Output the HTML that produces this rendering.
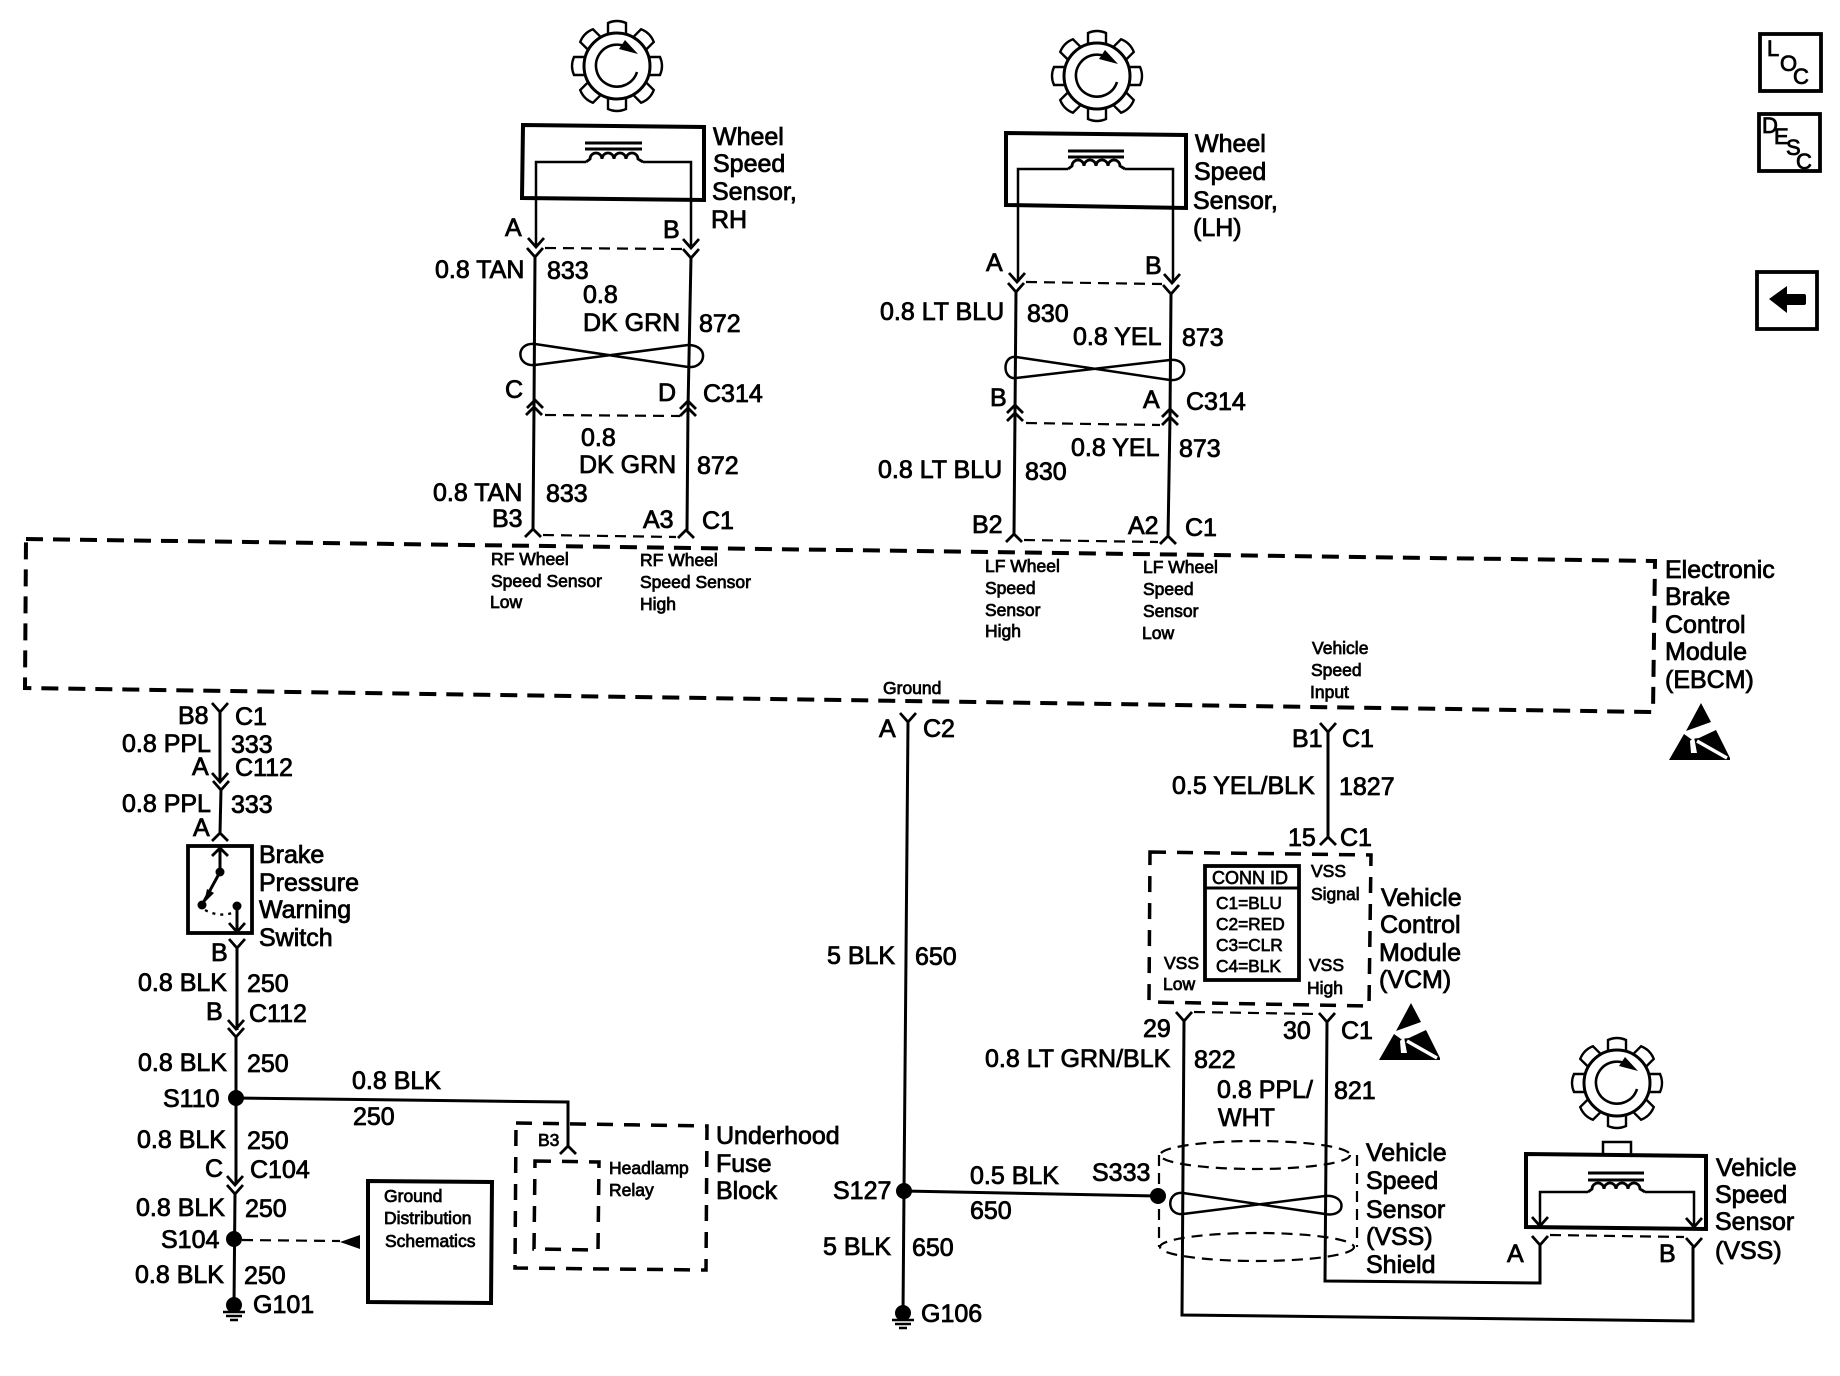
<!DOCTYPE html>
<html><head><meta charset="utf-8"><style>
html,body{margin:0;padding:0;background:#fff}
svg{display:block}
text{font-family:"Liberation Sans",sans-serif;fill:#000;stroke:#000;stroke-width:.8px}
.b{font-size:25px}
.s{font-size:17.5px;stroke-width:.75px}
.c{font-size:17.3px;stroke-width:.7px}
.l{font-size:22px}
.w{fill:none;stroke:#000;stroke-width:3}
.t{fill:none;stroke:#000;stroke-width:2.5}
.d4{fill:none;stroke:#000;stroke-width:4;stroke-dasharray:17 10}
.d3{fill:none;stroke:#000;stroke-width:3.5;stroke-dasharray:16 11}
.d2{fill:none;stroke:#000;stroke-width:2.2;stroke-dasharray:11 7}
.bx{fill:none;stroke:#000;stroke-width:3.8}
</style></head><body>
<svg xmlns="http://www.w3.org/2000/svg" width="1840" height="1376" viewBox="0 0 1840 1376">
<defs>
<path id="v" d="M-8,-9 L0,0 L8,-9" fill="none" stroke="#000" stroke-width="2.8"/>
<path id="a" d="M-8,7 L0,-1 L8,7" fill="none" stroke="#000" stroke-width="2.8"/>
<path id="coil" d="M0 0 l4 -3 a6 6 0 0 1 12 0 a6 6 0 0 1 12 0 a6 6 0 0 1 12 0 a6 6 0 0 1 12 0 l5 3" fill="none" stroke="#000" stroke-width="2.8"/>
<g id="tooth"><path d="M-9,-33 L-9,-43 Q0,-47 9,-43 L9,-33" fill="#fff" stroke="#000" stroke-width="2.4"/></g>
<g id="gear">
<use href="#tooth"/><use href="#tooth" transform="rotate(45)"/><use href="#tooth" transform="rotate(90)"/><use href="#tooth" transform="rotate(135)"/><use href="#tooth" transform="rotate(180)"/><use href="#tooth" transform="rotate(225)"/><use href="#tooth" transform="rotate(270)"/><use href="#tooth" transform="rotate(315)"/>
<circle r="33" fill="#fff" stroke="#000" stroke-width="3"/>
<path d="M20,6 A21,21 0 1 1 14,-16" fill="none" stroke="#000" stroke-width="2.6"/>
<polygon points="8,-26 21,-12 2,-17" fill="#000"/>
</g>
<g id="esd">
<polygon points="32,0 42,19 17,28" fill="#000"/>
<polygon points="15,31 22,36 30,35 47,27 61,55 61,57 0,57" fill="#000"/>
<path d="M28,38 L58,55" stroke="#fff" stroke-width="3.5" fill="none"/>
<path d="M21,38 L25,34 L28,50 L22,50 Z" fill="#fff"/>
</g>
<g id="gnd"><circle r="8" fill="#000"/>
<path d="M-11,7 H11 M-8,11 H8 M-4,15 H4" stroke="#000" stroke-width="2.4" fill="none"/></g>
</defs>

<!-- top right buttons -->
<rect class="bx" x="1760" y="34" width="61" height="57"/>
<text class="l" x="1767" y="56">L</text>
<text class="l" x="1780" y="71">O</text>
<text class="l" x="1793" y="84">C</text>
<rect class="bx" x="1759" y="114" width="61" height="57"/>
<text class="l" x="1762" y="133">D</text>
<text class="l" x="1774" y="144">E</text>
<text class="l" x="1786" y="155">S</text>
<text class="l" x="1796" y="169">C</text>
<rect class="bx" x="1757" y="272" width="60" height="57"/>
<path d="M1769,299 L1787,286 V294 H1804 Q1806,294 1806,296 V303 Q1806,305 1804,305 H1787 V313 Z" fill="#000"/>

<!-- EBCM box -->
<path class="d4" d="M26,539 L1655,561 L1653,712 L25,688 Z"/>

<!-- RH sensor -->
<use href="#gear" x="617" y="66"/>
<path d="M523,125 L704,127 L704,200 L522,198 Z" fill="none" stroke="#000" stroke-width="4"/>
<path class="w" d="M585,143 H642 M585,149 H642" stroke-width="2.4"/>
<path class="t" d="M536,247 V162 H586 M643,162 H691 V247"/>
<use href="#coil" x="586" y="162"/>
<use href="#v" x="536" y="247"/><use href="#v" x="691" y="248"/>
<use href="#v" x="535" y="257"/><use href="#v" x="691" y="258"/>
<path class="d2" d="M545,248 L683,249"/>
<path class="w" d="M535,256 L534,408 M691,257 L688,408"/>
<path class="t" d="M535,344 L688,367 C706,369 710,345 688,345 L535,365 C516,367 515,342 535,344"/>
<use href="#a" x="535" y="401"/><use href="#a" x="688" y="402"/>
<use href="#a" x="534" y="408"/><use href="#a" x="688" y="409"/>
<path class="d2" d="M545,415 L680,416"/>
<path class="w" d="M534,408 L533,530 M688,408 L687,530"/>
<use href="#a" x="533" y="530"/><use href="#a" x="686" y="531"/>
<path class="d2" d="M543,535 L676,537"/>

<text class="b" x="713" y="145">Wheel</text><text class="b" x="713" y="172">Speed</text>
<text class="b" x="712" y="200">Sensor,</text><text class="b" x="711" y="228">RH</text>
<text class="b" x="505" y="236">A</text><text class="b" x="663" y="238">B</text>
<text class="b" x="435" y="278">0.8 TAN</text><text class="b" x="547" y="279">833</text>
<text class="b" x="583" y="303">0.8</text><text class="b" x="583" y="331">DK GRN</text><text class="b" x="699" y="332">872</text>
<text class="b" x="505" y="398">C</text><text class="b" x="658" y="401">D</text><text class="b" x="703" y="402">C314</text>
<text class="b" x="581" y="446">0.8</text><text class="b" x="579" y="473">DK GRN</text><text class="b" x="697" y="474">872</text>
<text class="b" x="433" y="501">0.8 TAN</text><text class="b" x="546" y="502">833</text>
<text class="b" x="492" y="527">B3</text><text class="b" x="643" y="528">A3</text><text class="b" x="702" y="529">C1</text>
<text class="s" x="491" y="565">RF Wheel</text><text class="s" x="491" y="587">Speed Sensor</text><text class="s" x="490" y="608">Low</text>
<text class="s" x="640" y="566">RF Wheel</text><text class="s" x="640" y="588">Speed Sensor</text><text class="s" x="640" y="610">High</text>

<!-- LH sensor -->
<use href="#gear" x="1097" y="76"/>
<path d="M1006,133 L1186,135 L1186,208 L1006,205 Z" fill="none" stroke="#000" stroke-width="4"/>
<path class="w" d="M1068,151 H1124 M1068,157 H1124" stroke-width="2.4"/>
<path class="t" d="M1018,282 V169 H1068 M1125,169 H1173 V283"/>
<use href="#coil" x="1068" y="169"/>
<use href="#v" x="1017" y="282"/><use href="#v" x="1172" y="283"/>
<use href="#v" x="1016" y="292"/><use href="#v" x="1171" y="294"/>
<path class="d2" d="M1026,282 L1162,284"/>
<path class="w" d="M1016,291 L1015,414 M1171,293 L1170,418"/>
<path class="t" d="M1016,357 L1170,380 C1188,382 1190,358 1170,360 L1016,378 C1002,380 1002,355 1016,357"/>
<use href="#a" x="1015" y="406"/><use href="#a" x="1170" y="410"/>
<use href="#a" x="1015" y="414"/><use href="#a" x="1170" y="418"/>
<path class="d2" d="M1026,423 L1160,425"/>
<path class="w" d="M1015,414 L1014,535 M1170,418 L1168,537"/>
<use href="#a" x="1014" y="535"/><use href="#a" x="1168" y="537"/>
<path class="d2" d="M1024,540 L1158,542"/>

<text class="b" x="1195" y="152">Wheel</text><text class="b" x="1194" y="180">Speed</text>
<text class="b" x="1193" y="209">Sensor,</text><text class="b" x="1193" y="236">(LH)</text>
<text class="b" x="986" y="271">A</text><text class="b" x="1145" y="274">B</text>
<text class="b" x="880" y="320">0.8 LT BLU</text><text class="b" x="1027" y="322">830</text>
<text class="b" x="1073" y="345">0.8 YEL</text><text class="b" x="1182" y="346">873</text>
<text class="b" x="990" y="406">B</text><text class="b" x="1143" y="408">A</text><text class="b" x="1186" y="410">C314</text>
<text class="b" x="1071" y="456">0.8 YEL</text><text class="b" x="1179" y="457">873</text>
<text class="b" x="878" y="478">0.8 LT BLU</text><text class="b" x="1025" y="480">830</text>
<text class="b" x="972" y="533">B2</text><text class="b" x="1128" y="534">A2</text><text class="b" x="1185" y="536">C1</text>
<text class="s" x="985" y="572">LF Wheel</text><text class="s" x="985" y="594">Speed</text><text class="s" x="985" y="616">Sensor</text><text class="s" x="985" y="637">High</text>
<text class="s" x="1143" y="573">LF Wheel</text><text class="s" x="1143" y="595">Speed</text><text class="s" x="1143" y="617">Sensor</text><text class="s" x="1142" y="639">Low</text>

<text class="b" x="1665" y="578">Electronic</text><text class="b" x="1665" y="605">Brake</text>
<text class="b" x="1665" y="633">Control</text><text class="b" x="1665" y="660">Module</text><text class="b" x="1665" y="688">(EBCM)</text>
<use href="#esd" x="1669" y="703"/>

<text class="s" x="1312" y="654">Vehicle</text><text class="s" x="1311" y="676">Speed</text><text class="s" x="1310" y="698">Input</text>
<text class="s" x="883" y="694">Ground</text>

<!-- left chain -->
<use href="#v" x="220" y="712"/>
<path class="w" d="M220,712 V782"/>
<use href="#v" x="220" y="782"/><use href="#v" x="221" y="790"/>
<path class="w" d="M221,789 L220,833"/>
<use href="#a" x="220" y="834"/>
<text class="b" x="178" y="724">B8</text><text class="b" x="235" y="725">C1</text>
<text class="b" x="122" y="752">0.8 PPL</text><text class="b" x="231" y="753">333</text>
<text class="b" x="192" y="775">A</text><text class="b" x="235" y="776">C112</text>
<text class="b" x="122" y="812">0.8 PPL</text><text class="b" x="231" y="813">333</text>
<text class="b" x="193" y="836">A</text>
<rect class="bx" x="188" y="846" width="64" height="87"/>
<path class="w" d="M220,849 V872 M220,872 L202,905"/>
<use href="#a" x="220" y="849"/>
<circle cx="220" cy="872" r="4.5"/><circle cx="202" cy="905" r="4.5"/><circle cx="237" cy="906" r="4.5"/>
<polygon points="204,903 207,889 214,893"/>
<path d="M205,910 Q220,918 235,912" fill="none" stroke="#000" stroke-width="2.4" stroke-dasharray="3 5"/>
<path class="w" d="M237,906 V932"/>
<use href="#v" x="237" y="932"/>
<text class="b" x="259" y="863">Brake</text><text class="b" x="259" y="891">Pressure</text>
<text class="b" x="259" y="918">Warning</text><text class="b" x="259" y="946">Switch</text>

<use href="#v" x="237" y="948"/>
<path class="w" d="M237,948 V1030"/>
<use href="#v" x="236" y="1029"/><use href="#v" x="236" y="1037"/>
<path class="w" d="M236,1036 V1184"/>
<use href="#v" x="235" y="1185"/><use href="#v" x="235" y="1194"/>
<path class="w" d="M235,1193 L234,1305"/>
<circle cx="236" cy="1098" r="8"/><circle cx="234" cy="1239" r="8"/>
<use href="#gnd" x="234" y="1305"/>
<text class="b" x="211" y="961">B</text>
<text class="b" x="138" y="991">0.8 BLK</text><text class="b" x="247" y="992">250</text>
<text class="b" x="206" y="1020">B</text><text class="b" x="249" y="1022">C112</text>
<text class="b" x="138" y="1071">0.8 BLK</text><text class="b" x="247" y="1072">250</text>
<text class="b" x="163" y="1107">S110</text>
<text class="b" x="137" y="1148">0.8 BLK</text><text class="b" x="247" y="1149">250</text>
<text class="b" x="205" y="1177">C</text><text class="b" x="250" y="1178">C104</text>
<text class="b" x="136" y="1216">0.8 BLK</text><text class="b" x="245" y="1217">250</text>
<text class="b" x="161" y="1248">S104</text>
<text class="b" x="135" y="1283">0.8 BLK</text><text class="b" x="244" y="1284">250</text>
<text class="b" x="253" y="1313">G101</text>

<path class="w" d="M236,1098 L480,1101 L568,1102 V1147"/>
<use href="#a" x="568" y="1147"/>
<text class="b" x="352" y="1089">0.8 BLK</text><text class="b" x="353" y="1125">250</text>
<path class="d2" d="M242,1240 L340,1241" stroke-width="3"/>
<polygon points="340,1242 360,1235 360,1249"/>
<path d="M368,1181 L492,1182 L491,1303 L368,1302 Z" fill="none" stroke="#000" stroke-width="4"/>
<text class="s" x="384" y="1202">Ground</text><text class="s" x="384" y="1224">Distribution</text><text class="s" x="385" y="1247">Schematics</text>

<path class="d3" d="M516,1123 L707,1126 L706,1270 L515,1268 Z"/>
<path class="d3" d="M535,1161 L599,1162 L598,1250 L534,1249 Z"/>
<text class="s" x="538" y="1146">B3</text>
<text class="s" x="609" y="1174">Headlamp</text><text class="s" x="609" y="1196">Relay</text>
<text class="b" x="716" y="1144">Underhood</text><text class="b" x="716" y="1172">Fuse</text><text class="b" x="716" y="1199">Block</text>

<!-- Middle ground wire -->
<use href="#v" x="908" y="722"/>
<path class="w" d="M908,722 L904,1191 L903,1313"/>
<circle cx="904" cy="1191" r="8"/>
<use href="#gnd" x="903" y="1313"/>
<text class="b" x="879" y="737">A</text><text class="b" x="923" y="737">C2</text>
<text class="b" x="827" y="964">5 BLK</text><text class="b" x="915" y="965">650</text>
<text class="b" x="833" y="1199">S127</text>
<text class="b" x="823" y="1255">5 BLK</text><text class="b" x="912" y="1256">650</text>
<text class="b" x="921" y="1322">G106</text>

<path class="w" d="M904,1191 L1158,1196"/>
<circle cx="1158" cy="1196" r="8"/>
<text class="b" x="970" y="1184">0.5 BLK</text><text class="b" x="970" y="1219">650</text>
<text class="b" x="1092" y="1181">S333</text>

<!-- VCM -->
<use href="#v" x="1328" y="732"/>
<path class="w" d="M1328,732 V837"/>
<use href="#a" x="1328" y="838"/>
<text class="b" x="1292" y="747">B1</text><text class="b" x="1342" y="747">C1</text>
<text class="b" x="1172" y="794">0.5 YEL/BLK</text><text class="b" x="1339" y="795">1827</text>
<text class="b" x="1288" y="846">15</text><text class="b" x="1340" y="846">C1</text>

<path class="d3" d="M1150,852 L1371,855 L1369,1006 L1149,1002 Z"/>
<rect class="bx" x="1205" y="866" width="94" height="114"/>
<path d="M1205,888 H1299" stroke="#000" stroke-width="3"/>
<text class="c" x="1212" y="884" style="font-size:18px">CONN ID</text>
<text class="c" x="1216" y="909">C1=BLU</text>
<text class="c" x="1216" y="930">C2=RED</text>
<text class="c" x="1216" y="951">C3=CLR</text>
<text class="c" x="1216" y="972">C4=BLK</text>
<text class="s" x="1311" y="877">VSS</text><text class="s" x="1311" y="900">Signal</text>
<text class="s" x="1164" y="969">VSS</text><text class="s" x="1163" y="990">Low</text>
<text class="s" x="1309" y="971">VSS</text><text class="s" x="1307" y="994">High</text>
<text class="b" x="1381" y="906">Vehicle</text><text class="b" x="1380" y="933">Control</text>
<text class="b" x="1379" y="961">Module</text><text class="b" x="1379" y="988">(VCM)</text>
<use href="#esd" x="1379" y="1003"/>

<use href="#v" x="1184" y="1021"/><use href="#v" x="1327" y="1022"/>
<path class="d2" d="M1194,1012 L1318,1014"/>
<text class="b" x="1143" y="1037">29</text><text class="b" x="1283" y="1039">30</text><text class="b" x="1341" y="1039">C1</text>
<text class="b" x="985" y="1067">0.8 LT GRN/BLK</text><text class="b" x="1194" y="1068">822</text>
<text class="b" x="1217" y="1098">0.8 PPL/</text><text class="b" x="1334" y="1099">821</text><text class="b" x="1218" y="1126">WHT</text>

<path class="w" d="M1184,1021 L1182,1315 L1693,1321 V1247"/>
<path class="w" d="M1327,1022 L1325,1281 L1540,1283 V1245"/>
<path class="t" d="M1183,1193 L1325,1214 C1347,1218 1347,1194 1325,1196 L1183,1214 C1166,1216 1166,1191 1183,1193"/>
<ellipse cx="1255" cy="1155" rx="95" ry="14" class="d2"/>
<ellipse cx="1257" cy="1247" rx="97" ry="14" class="d2"/>
<path class="d2" d="M1159,1155 V1247 M1357,1155 V1247"/>
<text class="b" x="1366" y="1161">Vehicle</text><text class="b" x="1366" y="1189">Speed</text><text class="b" x="1366" y="1218">Sensor</text>
<text class="b" x="1366" y="1245">(VSS)</text><text class="b" x="1366" y="1273">Shield</text>

<!-- VSS -->
<use href="#gear" x="1617" y="1083"/>
<rect x="1603" y="1142" width="28" height="13" fill="#fff" stroke="#000" stroke-width="2.5"/>
<path d="M1526,1154 L1706,1156 L1706,1229 L1526,1227 Z" fill="none" stroke="#000" stroke-width="4"/>
<path class="w" d="M1588,1173 H1644 M1588,1180 H1644" stroke-width="2.4"/>
<path class="t" d="M1540,1226 V1192 H1588 M1645,1192 H1694 V1227"/>
<use href="#coil" x="1588" y="1192"/>
<use href="#v" x="1540" y="1226"/><use href="#v" x="1694" y="1227"/>
<use href="#v" x="1540" y="1245"/><use href="#v" x="1694" y="1247"/>
<path class="d2" d="M1550,1235 L1684,1237"/>
<text class="b" x="1507" y="1262">A</text><text class="b" x="1659" y="1262">B</text>
<text class="b" x="1716" y="1176">Vehicle</text><text class="b" x="1715" y="1203">Speed</text>
<text class="b" x="1715" y="1230">Sensor</text><text class="b" x="1715" y="1259">(VSS)</text>
</svg>
</body></html>
